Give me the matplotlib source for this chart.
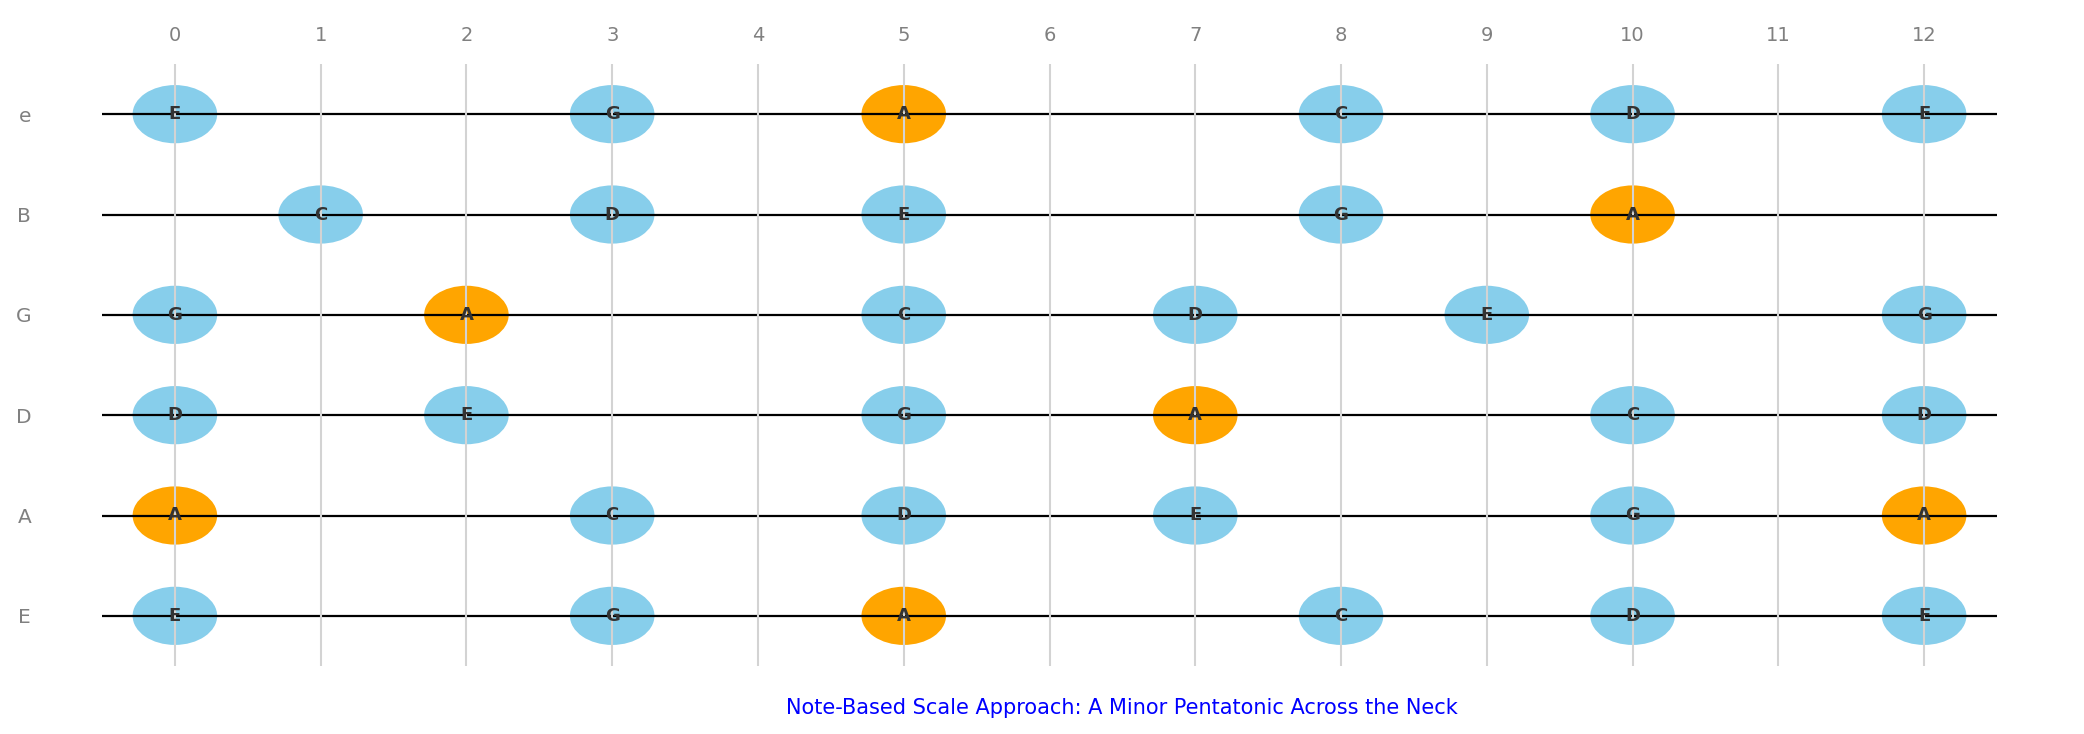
import matplotlib
matplotlib.use("Agg")
import matplotlib.pyplot as plt
from matplotlib.patches import Ellipse

# strings from low E (bottom) to high e (top)
string_names = ["E", "A", "D", "G", "B", "e"]
frets = list(range(13))

# A minor pentatonic positions per string (fret numbers and note names)
string_frets = {
    "E": [0, 3, 5, 8, 10, 12],
    "A": [0, 3, 5, 7, 10, 12],
    "D": [0, 2, 5, 7, 10, 12],
    "G": [0, 2, 5, 7, 9, 12],
    "B": [1, 3, 5, 8, 10],
    "e": [0, 3, 5, 8, 10, 12],
}
string_notes = {
    "E": ["E", "G", "A", "C", "D", "E"],
    "A": ["A", "C", "D", "E", "G", "A"],
    "D": ["D", "E", "G", "A", "C", "D"],
    "G": ["G", "A", "C", "D", "E", "G"],
    "B": ["C", "D", "E", "G", "A"],
    "e": ["E", "G", "A", "C", "D", "E"],
}
root_note = "A"
title = "Note-Based Scale Approach: A Minor Pentatonic Across the Neck"

fig = plt.figure(figsize=(20.84, 7.34), dpi=100)
ax = fig.add_axes([102 / 2084, 68 / 734, 1895 / 2084, 602 / 734])

ax.set_xlim(-0.5, 12.5)
ax.set_ylim(-0.5, 5.5)

# strings
for i, s in enumerate(string_names):
    ax.hlines(i, -0.5, 12.5, color="black", lw=1.6, zorder=1.2)

# notes
r = 0.29
for i, s in enumerate(string_names):
    for f, n in zip(string_frets[s], string_notes[s]):
        col = "orange" if n == root_note else "skyblue"
        ax.add_patch(Ellipse((f, i), 2 * r, 2 * r, color=col, lw=0, zorder=1))
        ax.text(f, i, n, ha="center", va="center", fontsize=13,
                fontweight="bold", color="#333333", zorder=3)

ax.xaxis.tick_top()
ax.set_xticks(frets)
ax.set_xticklabels([str(f) for f in frets])
ax.set_yticks(range(len(string_names)))
ax.set_yticklabels(string_names)
ax.tick_params(axis="x", length=0, pad=14, labelsize=14, colors="gray")
ax.tick_params(axis="y", length=0, pad=51, labelsize=14.5, colors="gray")
ax.xaxis.grid(True, color="lightgray", lw=1.5)
ax.yaxis.grid(False)
for sp in ax.spines.values():
    sp.set_visible(False)

fig.text(1122 / 2084, 1 - 708 / 734, title, ha="center", va="center",
         fontsize=15, color="blue")

fig.savefig("out.png", dpi=100)
